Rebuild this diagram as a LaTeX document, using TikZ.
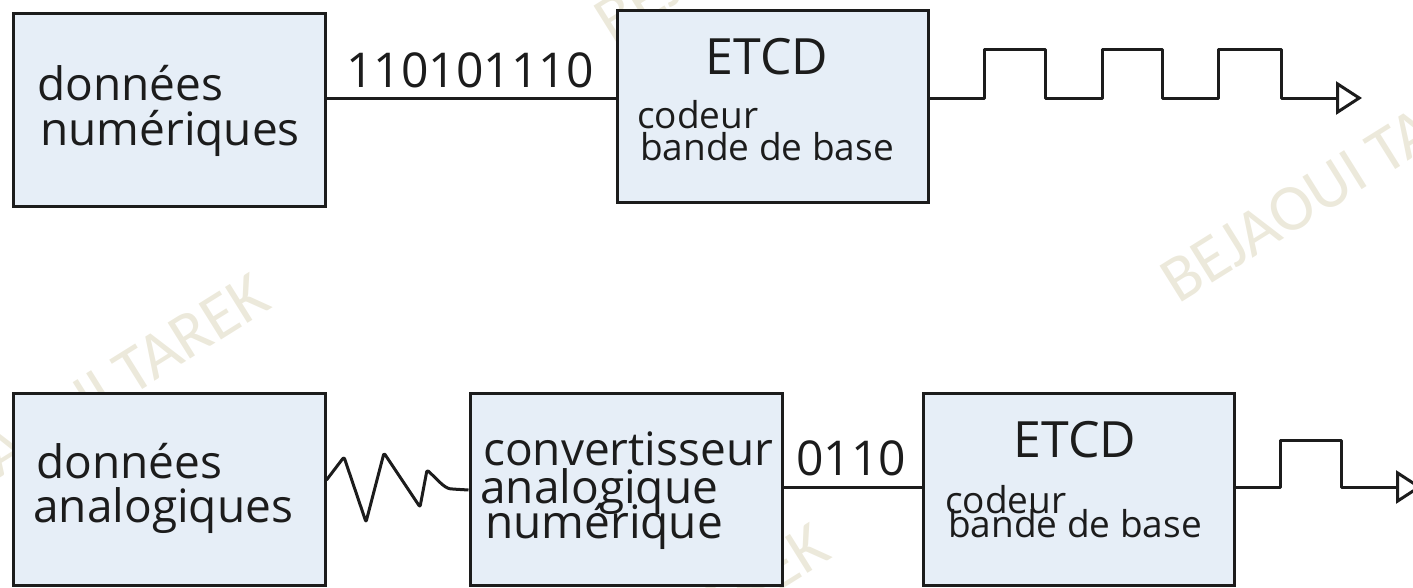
\documentclass[tikz,border=0pt]{standalone}
\usepackage{fontspec}
\setmainfont{Open Sans}
\newfontfamily\markfont{Carlito}
\usetikzlibrary{arrows.meta}

\definecolor{boxfill}{RGB}{230,238,247}
\definecolor{ink}{RGB}{28,28,28}
\definecolor{markcol}{RGB}{236,233,219}

\tikzset{
  bloc/.style={draw=ink, fill=boxfill, line width=3pt, inner sep=0pt},
  wire/.style={draw=ink, line width=3pt, line join=round},
  txt/.style={inner sep=0pt, anchor=base west, text=ink, font=\fontsize{46}{50}\selectfont},
  small/.style={txt, font=\fontsize{37}{40}\selectfont},
  bits/.style={inner sep=0pt, anchor=base, text=ink, font=\fontsize{48}{50}\selectfont},
  title/.style={inner sep=0pt, anchor=base, text=ink, font=\fontsize{50}{52}\selectfont},
  wmark/.style={inner sep=0pt, anchor=base west, rotate=32, text=markcol, font=\markfont\fontsize{66}{70}\selectfont},
  tip/.style={-{Triangle[open,length=26pt,width=33pt]}}
}

\begin{document}
\begin{tikzpicture}[x=1pt,y=-1pt]
\useasboundingbox (0,0) rectangle (1413,587);
\clip (0,0) rectangle (1413,587);

% watermark, behind everything
\node[wmark] (wm1) at (-75,525) {BEJAOUI TAREK};
\node[wmark] (wm2) at (485,775) {BEJAOUI TAREK};
\node[wmark] (wm3) at (612,45) {BEJAOUI TAREK};
\node[wmark] (wm4) at (1178,305) {BEJAOUI TAREK};

%Shape: Rectangle
\node[bloc, minimum width=312pt, minimum height=193pt] (numsrc) at (169,109.5) {};
%Shape: Rectangle
\node[bloc, minimum width=311pt, minimum height=192pt] (etcdA) at (772.5,106) {};
%Shape: Rectangle
\node[bloc, minimum width=312pt, minimum height=192pt] (anasrc) at (169,489) {};
%Shape: Rectangle
\node[bloc, minimum width=312pt, minimum height=192pt] (can) at (626,489) {};
%Shape: Rectangle
\node[bloc, minimum width=311pt, minimum height=192pt] (etcdB) at (1078.5,489) {};

% Text Node
\node[txt] (t1) at (37,100) {données};
\node[txt] (t2) at (40,145) {numériques};
% Text Node
\node[title] (t3) at (767,74) {ETCD};
\node[small] (t4) at (637,128) {codeur};
\node[small] (t5) at (640,160) {bande de base};
% Text Node
\node[txt] (t6) at (36,478) {données};
\node[txt] (t7) at (33,522) {analogiques};
% Text Node
\node[txt] (t8) at (483,465) {convertisseur};
\node[txt] (t9) at (480,503) {analogique};
\node[txt] (t10) at (485,538) {numérique};
% Text Node
\node[title] (t11) at (1075,457) {ETCD};
\node[small] (t12) at (945,513) {codeur};
\node[small] (t13) at (948,537) {bande de base};

% Text Node
\node[bits] (b1) at (470,87) {110101110};
\node[bits] (b2) at (851,475) {0110};

\coordinate (outA) at (1362,98);
\coordinate (outB) at (1422,487);

%Straight Lines
\draw[wire] ([yshift=11.5pt]numsrc.east) -- ([yshift=8pt]etcdA.west);
\draw[wire] ([yshift=2pt]can.east) -- ([yshift=2pt]etcdB.west);

% analog signal
\draw[wire, rounded corners=2pt] ([yshift=9pt]anasrc.east) -- (344,457) -- (366,522) -- (384,453) -- (420,507) -- (427,470)
  .. controls (436,478) and (444,488) .. (452,489) -- ([yshift=-1pt]can.west);

% square waves
\draw[wire, tip] ([yshift=8pt]etcdA.east) -- (984,98) -- (984,49) -- (1045,49) -- (1045,98) -- (1102,98) -- (1102,49)
  -- (1162,49) -- (1162,98) -- (1218,98) -- (1218,49) -- (1281,49) -- (1281,98) -- (outA);
\draw[wire, tip] ([yshift=2pt]etcdB.east) -- (1280,487) -- (1280,440) -- (1341,440) -- (1341,487) -- (outB);

\end{tikzpicture}
\end{document}
